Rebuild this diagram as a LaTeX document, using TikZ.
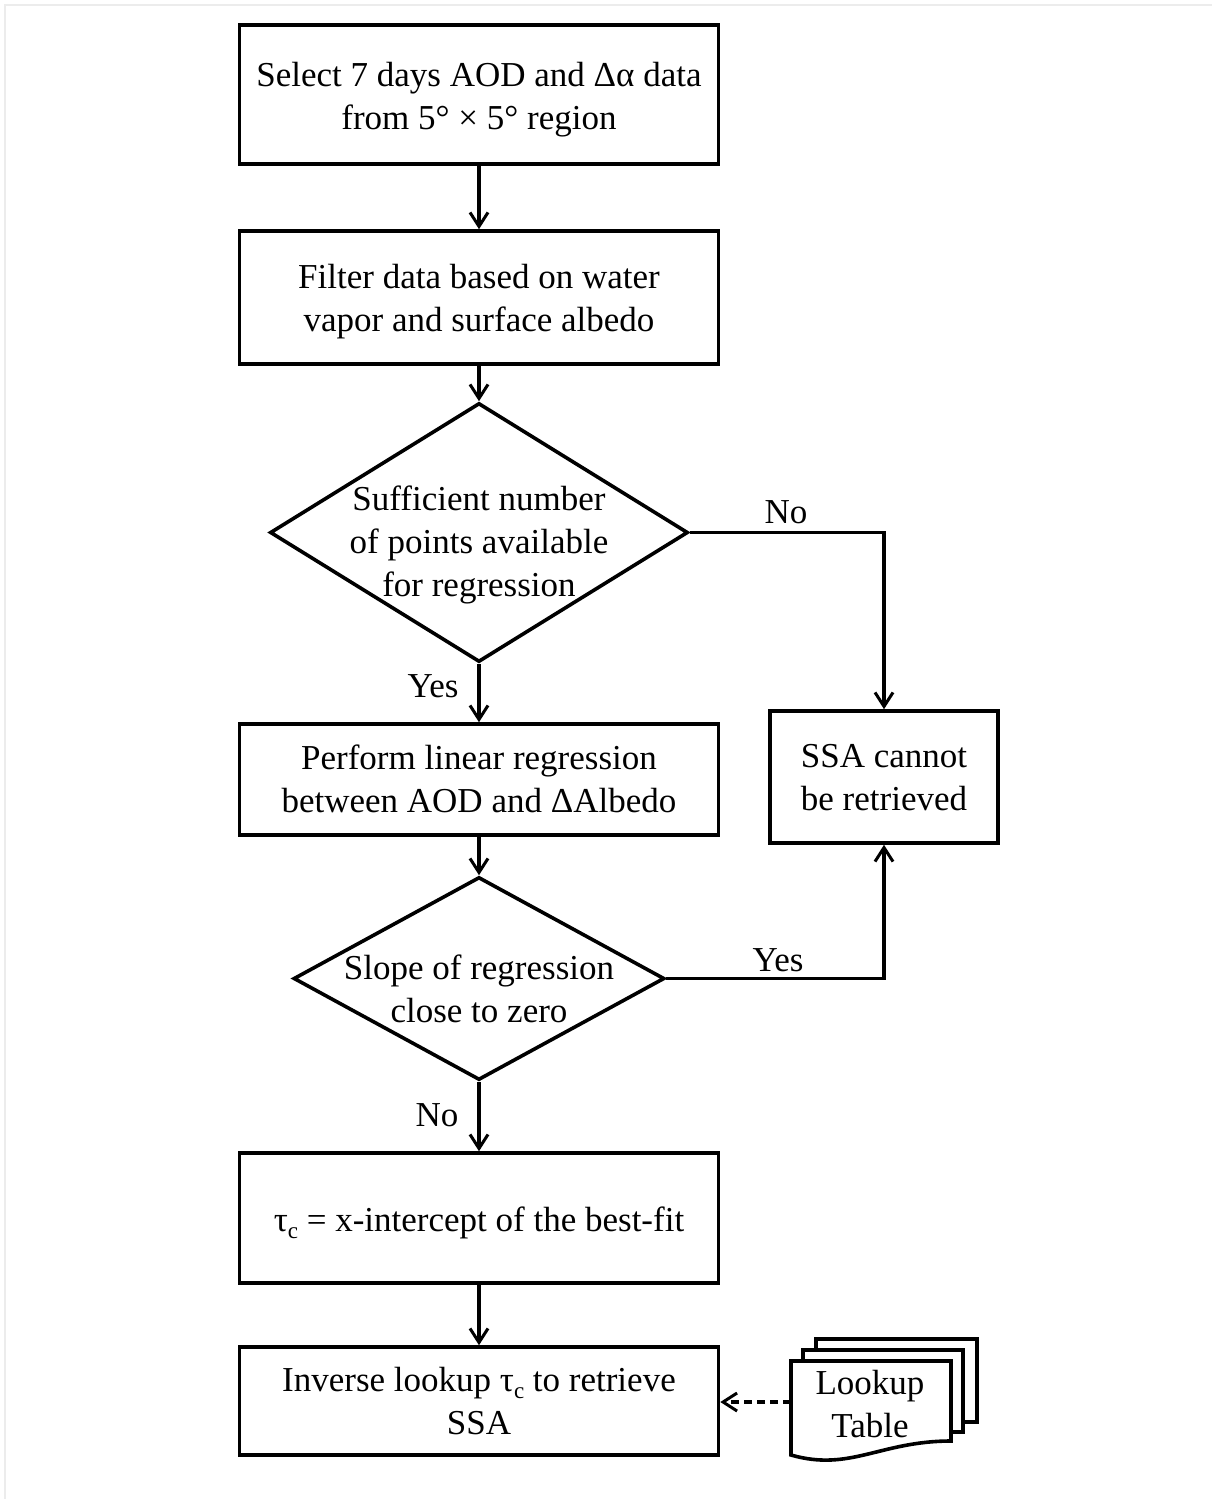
\documentclass[tikz,border=0pt]{standalone}
\usepackage{fontspec}
\setmainfont{Liberation Serif}
\usetikzlibrary{shapes.geometric,arrows.meta}
\newcommand{\tauc}{τ\raisebox{-0.45ex}{\fontsize{11.5}{11.5}\selectfont c}}
\begin{document}
\begin{tikzpicture}[x=0.5pt,y=-0.5pt,
  font=\fontsize{17.5}{21.5}\selectfont,
  box/.style={draw=black,line width=1.8pt,rectangle,inner sep=0pt,fill=white},
  dia/.style={draw=black,line width=1.8pt,diamond,inner sep=0pt},
  txt/.style={inner sep=0pt,align=center},
  arr/.style={line width=1.6pt,-{Straight Barb[length=7pt,width=9pt,line width=1.5pt]}},
  sheet/.style={draw=black,line width=1.8pt,fill=white}]
\useasboundingbox (0,0) rectangle (1212,1499);
\fill[white] (0,0) rectangle (1212,1499);
\draw[color={rgb,255:red,236;green,236;blue,236},line width=1pt] (5,1499) -- (5,5) -- (1212,5);
% boxes
\node[box,minimum width=239.5pt,minimum height=69.5pt] (b1) at (479,94.5) {};
\node[txt] (b1t) at (479,100) {Select 7 days AOD and Δα data\\from 5° × 5° region};
\node[box,minimum width=239.5pt,minimum height=66.5pt] (b2) at (479,297.5) {};
\node[txt] (b2t) at (479,302) {Filter data based on water\\vapor and surface albedo};
\node[dia,minimum width=209pt,minimum height=129.5pt] (d1) at (479,532.5) {};
\node[txt] (d1t) at (479,544.5) {Sufficient number\\of points available\\for regression};
\node[box,minimum width=239.5pt,minimum height=55.5pt] (b3) at (479,779.5) {};
\node[txt] (b3t) at (479,779) {Perform linear regression\\between AOD and ΔAlbedo};
\node[dia,minimum width=185.5pt,minimum height=101.5pt] (d2) at (479,978.5) {};
\node[txt] (d2t) at (479,989) {Slope of regression\\close to zero};
\node[box,minimum width=239.5pt,minimum height=65pt] (b4) at (479,1218) {};
\node[txt] (b4t) at (479,1223) {\tauc{} = x-intercept of the best-fit};
\node[box,minimum width=239.5pt,minimum height=54pt] (b5) at (479,1401) {};
\node[txt] (b5t) at (479,1401) {Inverse lookup \tauc{} to retrieve\\SSA};
\node[box,minimum width=114pt,minimum height=66pt] (ssa) at (884,777) {};
\node[txt] (ssat) at (884,778) {SSA cannot\\be retrieved};
% lookup table stack
\draw[sheet] (816,1339) rectangle (977,1422);
\draw[sheet] (803,1350) rectangle (963,1432);
\draw[sheet] (791,1455) -- (791,1361) -- (951,1361) -- (951,1441)
  .. controls (880,1441) and (850,1472) .. (791,1455) -- cycle;
\node[txt] (lt) at (870,1404) {Lookup\\Table};
\coordinate (ltw) at (791,1402);
% connectors
\draw[arr] (b1) -- (b2);
\draw[arr] (b2) -- (d1);
\draw[arr] (d1) -- (b3);
\draw[arr] (b3) -- (d2);
\draw[arr] (d2) -- (b4);
\draw[arr] (b4) -- (b5);
\draw[arr] (d1.east) -| (ssa.north);
\draw[arr] (d2.east) -| (ssa.south);
\draw[arr,dash pattern=on 4pt off 2.5pt] (ltw) -- (b5.east |- ltw);
% labels
\node[txt] (lno1) at (786,512) {No};
\node[txt] (lyes1) at (433,686) {Yes};
\node[txt] (lyes2) at (778,960) {Yes};
\node[txt] (lno2) at (437,1115) {No};
\end{tikzpicture}
\end{document}
